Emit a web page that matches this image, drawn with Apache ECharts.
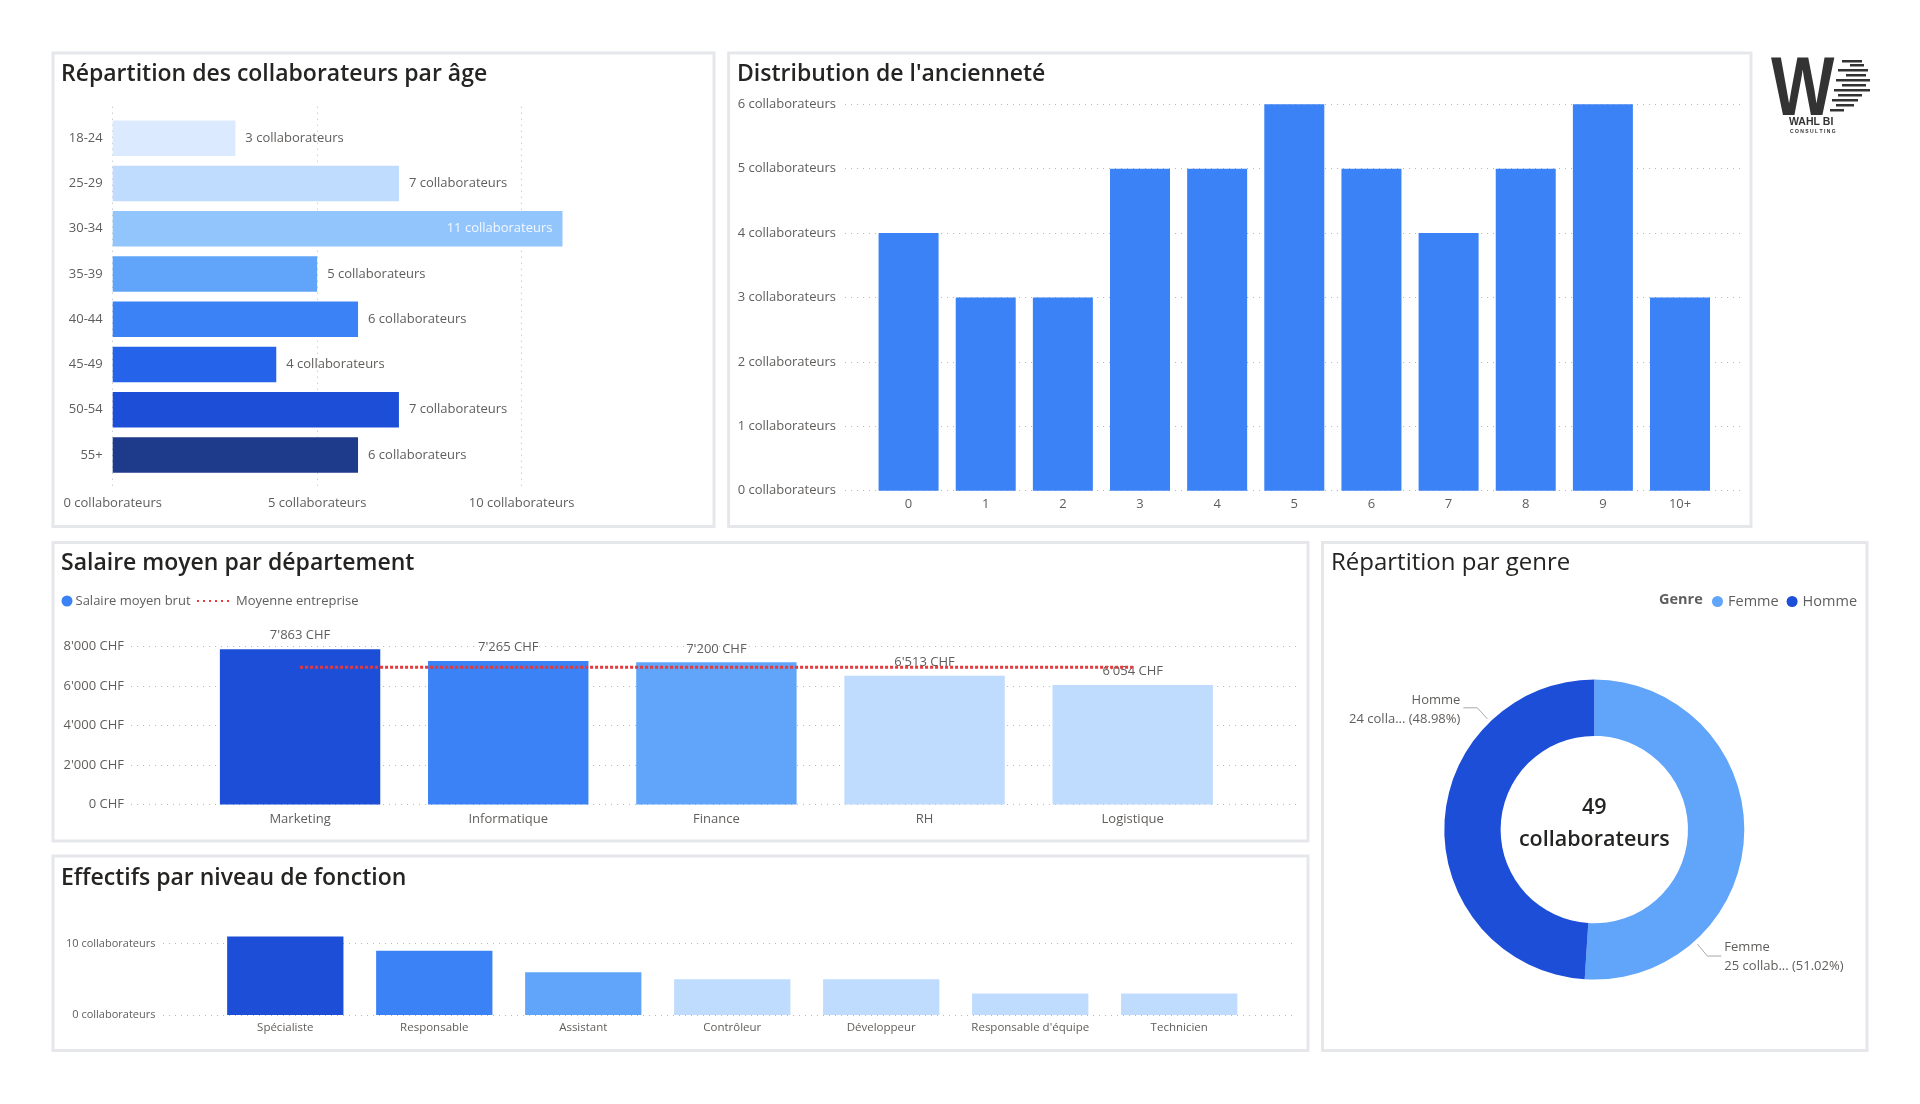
<!DOCTYPE html>
<html><head><meta charset="utf-8">
<script src="https://cdn.jsdelivr.net/npm/echarts@6/dist/echarts.min.js"></script>
<style>html,body{margin:0;padding:0;background:#fff;}#c{width:1920px;height:1104px;}</style>
</head><body><div id="c"></div>
<script>
// ---------- DATA ----------
const ageCategories = ['18-24','25-29','30-34','35-39','40-44','45-49','50-54','55+'];
const ageValues = [3,7,11,5,6,4,7,6];
const ageTicks = [0,5,10];
const tenureCategories = ['0','1','2','3','4','5','6','7','8','9','10+'];
const tenureValues = [4,3,3,5,5,6,5,4,5,6,3];
const tenureTicks = [0,1,2,3,4,5,6];
const departments = ['Marketing','Informatique','Finance','RH','Logistique'];
const salaryValues = [7863,7265,7200,6513,6054];
const companyAverage = [6950,6950,6950,6950,6950];
const salaryTicks = [0,2000,4000,6000,8000];
const jobLevels = ['Spécialiste','Responsable','Assistant','Contrôleur','Développeur',"Responsable d'équipe",'Technicien'];
const jobCounts = [11,9,6,5,5,3,3];
const jobTicks = [0,10];
const genders = ['Femme','Homme'];
const genderCounts = [25,24];
const genderLabelUnits = ['collab...','colla...'];

// ---------- STYLE ----------
const ageColors = ['#dbeafe','#bfdbfe','#93c5fd','#60a5fa','#3b82f6','#2563eb','#1d4ed8','#1e3a8a'];
const salaryColors = ['#1d4ed8','#3b82f6','#60a5fa','#bfdbfe','#bfdbfe'];
const jobColors = ['#1d4ed8','#3b82f6','#60a5fa','#bfdbfe','#bfdbfe','#bfdbfe','#bfdbfe'];
const genderColors = ['#60a5fa','#1d4ed8'];
const FF = "'Open Sans', sans-serif";
const TXT = '#605e5c';
const TITLE = '#252423';
const GRIDC = '#b8b8b8';
const PIE_C = [1594.3, 829.6];
const PIE_R = [93.7, 150];

const chf = v => String(v).replace(/\B(?=(\d{3})+(?!\d))/g, "'") + ' CHF';
const dotted = {show:true, lineStyle:{type:[1,5], color:GRIDC, width:1}};
const hidden = {show:false};
const lbl = (o) => Object.assign({color:TXT, fontFamily:FF, fontSize:13}, o);

const chart = echarts.init(document.getElementById('c'), null, {renderer:'canvas'});

const panel = (x,y,w,h) => ({type:'rect', z:-10, shape:{x,y,width:w,height:h}, style:{fill:'#fff', stroke:'#e6e7eb', lineWidth:3}});
const logoLines = [[1842,60,20],[1850,64,14],[1838,69,30],[1846,74,20],[1836,79,34],[1842,84,24],[1834,89,36],[1838,94,24],[1832,99,26],[1836,104,18],[1830,109,14]];

const total = genderCounts.reduce((a,b)=>a+b,0);
const titleStyle = {fontSize:23, fontWeight:600, color:TITLE, fontFamily:FF};

const option = {
  animation:false,
  backgroundColor:'#fff',
  textStyle:{fontFamily:FF},
  title:[
    {text:'Répartition des collaborateurs par âge', left:61, top:63, padding:0, textStyle:titleStyle},
    {text:"Distribution de l'ancienneté", left:737, top:63, padding:0, textStyle:titleStyle},
    {text:'Salaire moyen par département', left:61, top:552, padding:0, textStyle:titleStyle},
    {text:'Effectifs par niveau de fonction', left:61, top:867, padding:0, textStyle:titleStyle},
    {text:'Répartition par genre', left:1331, top:551, padding:0, textStyle:{fontSize:24, fontWeight:400, color:TITLE, fontFamily:FF}},
    {text:'Genre', left:1659, top:592, padding:0, textStyle:{fontSize:14.5, fontWeight:700, color:TXT, fontFamily:FF}}
  ],
  legend:[
    {data:['Salaire moyen brut'], left:61.5, top:594.5, padding:0, itemWidth:11, itemHeight:11, icon:'circle', itemGap:0, selectedMode:false, textStyle:{fontSize:13, color:TXT, fontFamily:FF, padding:[0,0,0,-2]}},
    {data:['Moyenne entreprise'], left:196, top:594.5, padding:0, itemWidth:36, itemHeight:11, itemGap:0, selectedMode:false,
     lineStyle:{width:2, type:[2,4], color:'#e5393b'}, itemStyle:{opacity:0}, textStyle:{fontSize:13, color:TXT, fontFamily:FF, padding:[0,0,0,-2]}},
    {data:genders, left:1712, top:594, padding:0, itemWidth:11, itemHeight:11, icon:'circle', itemGap:8, selectedMode:false, textStyle:{fontSize:14.5, color:TXT, fontFamily:FF}}
  ],
  grid:[
    {left:112.7, top:106.7, width:408.9, height:383.3},
    {left:112.7, top:115.7, width:408.9, height:361.9},
    {left:845, top:104.3, width:896.3, height:386.4},
    {left:870, top:104.3, width:848.6, height:386.4},
    {left:131, top:646.5, width:1165, height:158},
    {left:196, top:646.5, width:1040.8, height:158},
    {left:163, top:943.7, width:1133, height:71.3},
    {left:210.8, top:943.7, width:1042.9, height:71.3}
  ],
  xAxis:[
    {gridIndex:0, type:'value', min:ageTicks[0], max:ageTicks[ageTicks.length-1], interval:ageTicks[1]-ageTicks[0], axisLine:hidden, axisTick:hidden, splitLine:dotted, axisLabel:lbl({margin:7, formatter:v=>v+' collaborateurs'})},
    {gridIndex:1, type:'value', min:ageTicks[0], max:ageTicks[ageTicks.length-1], show:false},
    {gridIndex:2, type:'value', show:false},
    {gridIndex:3, type:'category', data:tenureCategories, axisLine:hidden, axisTick:hidden, splitLine:hidden, axisLabel:lbl({margin:7})},
    {gridIndex:4, type:'value', show:false},
    {gridIndex:5, type:'category', data:departments, axisLine:hidden, axisTick:hidden, splitLine:hidden, axisLabel:lbl({margin:8})},
    {gridIndex:6, type:'value', show:false},
    {gridIndex:7, type:'category', data:jobLevels, axisLine:hidden, axisTick:hidden, splitLine:hidden, axisLabel:lbl({margin:7, fontSize:11.5, interval:0})}
  ],
  yAxis:[
    {gridIndex:0, type:'value', show:false},
    {gridIndex:1, type:'category', data:ageCategories, inverse:true, axisLine:hidden, axisTick:hidden, splitLine:hidden, axisLabel:lbl({margin:10})},
    {gridIndex:2, type:'value', min:tenureTicks[0], max:tenureTicks[tenureTicks.length-1], interval:tenureTicks[1]-tenureTicks[0], axisLine:hidden, axisTick:hidden, splitLine:dotted, axisLabel:lbl({margin:9, formatter:v=>v+' collaborateurs'})},
    {gridIndex:3, type:'value', min:tenureTicks[0], max:tenureTicks[tenureTicks.length-1], show:false},
    {gridIndex:4, type:'value', min:salaryTicks[0], max:salaryTicks[salaryTicks.length-1], interval:salaryTicks[1]-salaryTicks[0], axisLine:hidden, axisTick:hidden, splitLine:dotted, axisLabel:lbl({margin:7, formatter:chf})},
    {gridIndex:5, type:'value', min:salaryTicks[0], max:salaryTicks[salaryTicks.length-1], show:false},
    {gridIndex:6, type:'value', min:jobTicks[0], max:jobTicks[jobTicks.length-1], interval:jobTicks[1]-jobTicks[0], axisLine:hidden, axisTick:hidden, splitLine:dotted, axisLabel:lbl({margin:7.5, fontSize:11, formatter:v=>v+' collaborateurs'})},
    {gridIndex:7, type:'value', min:jobTicks[0], max:jobTicks[jobTicks.length-1], show:false}
  ],
  series:[
    {type:'bar', name:'age', xAxisIndex:1, yAxisIndex:1, barWidth:35.5, clip:false,
     data: ageValues.map((v,i)=>({value:v, itemStyle:{color:ageColors[i]},
        label: v > ageTicks[ageTicks.length-1] ? {position:'insideRight', color:'#f2f7ff', distance:10} : {}})),
     label:{show:true, position:'right', distance:10, color:TXT, fontFamily:FF, fontSize:13, formatter:p=>p.value+' collaborateurs'}},
    {type:'bar', name:'tenure', xAxisIndex:3, yAxisIndex:3, barWidth:60, data:tenureValues, itemStyle:{color:'#3b82f6'}},
    {type:'bar', name:'Salaire moyen brut', xAxisIndex:5, yAxisIndex:5, barWidth:160.4, itemStyle:{color:'#3b82f6'},
     data: salaryValues.map((v,i)=>({value:v, itemStyle:{color:salaryColors[i]}})),
     label:{show:true, position:'top', distance:7, color:TXT, fontFamily:FF, fontSize:13, formatter:p=>chf(p.value)}},
    {type:'line', name:'Moyenne entreprise', xAxisIndex:5, yAxisIndex:5, z:3, data:companyAverage, symbol:'none', silent:true,
     lineStyle:{color:'#e5393b', width:3, type:[3,2]}, itemStyle:{color:'#e5393b'}},
    {type:'bar', name:'jobs', xAxisIndex:7, yAxisIndex:7, barWidth:116.3, clip:false,
     data: jobCounts.map((v,i)=>({value:v, itemStyle:{color:jobColors[i]}}))},
    {type:'pie', name:'Genre', center:PIE_C, radius:PIE_R, startAngle:90, clockwise:true, silent:true,
     data: genders.map((g,i)=>({name:g, value:genderCounts[i], itemStyle:{color:genderColors[i]}})),
     label:{show:true, color:TXT, fontFamily:FF, fontSize:13, lineHeight:19, width:190, overflow:'none',
        formatter:p=>p.name+'\n'+p.value+' '+genderLabelUnits[p.dataIndex]+' ('+p.percent.toFixed(2)+'%)'},
     labelLine:{show:true, lineStyle:{color:'#a8a8a8', width:1}},
     labelLayout: function(p){
        const ang = (p.dataIndex===0 ? -48 : 134) * Math.PI/180;
        const r = PIE_R[1] + 4;
        const sx = PIE_C[0] + r*Math.cos(ang), sy = PIE_C[1] - r*Math.sin(ang);
        const dir = Math.cos(ang) > 0 ? 1 : -1;
        const dy = Math.sin(ang) > 0 ? -11 : 12;
        const ex = sx + dir*10, ey = sy + dy;
        const fx = ex + dir*14;
        return {x: fx + dir*3, y: ey + (dir<0 ? 2 : 1), align: dir>0?'left':'right', verticalAlign:'middle', labelLinePoints:[[sx,sy],[ex,ey],[fx,ey]]};
     }}
  ],
  graphic:[
    panel(53,53,661,473.5),
    panel(728.6,53,1022.4,473.5),
    panel(53,542.5,1255,298.5),
    panel(53,856,1255,194.6),
    panel(1322.5,542.5,544.5,508.1),
    {type:'text', x:PIE_C[0], y:PIE_C[1]-6, z:10, style:{text: total+'\ncollaborateurs', align:'center', verticalAlign:'middle', fontFamily:FF, fontSize:21.5, fontWeight:600, lineHeight:32, fill:TITLE}},
    {type:'text', x:1771, y:50, z:10, scaleX:0.8, style:{text:'W', fontFamily:'Liberation Sans', fontWeight:'bold', fontSize:84, fill:'#333'}},
    ...logoLines.map(l=>({type:'rect', z:10, shape:{x:l[0], y:l[1], width:l[2], height:2.5}, style:{fill:'#333'}})),
    {type:'text', x:1789, y:117, z:10, style:{text:'WAHL BI', fontFamily:'Liberation Sans', fontWeight:'bold', fontSize:10.5, fill:'#333'}},
    {type:'text', x:1790, y:129, z:10, style:{text:'C O N S U L T I N G', fontFamily:'Liberation Sans', fontWeight:'bold', fontSize:5, fill:'#333'}}
  ]
};
chart.setOption(option);
</script>
</body></html>
